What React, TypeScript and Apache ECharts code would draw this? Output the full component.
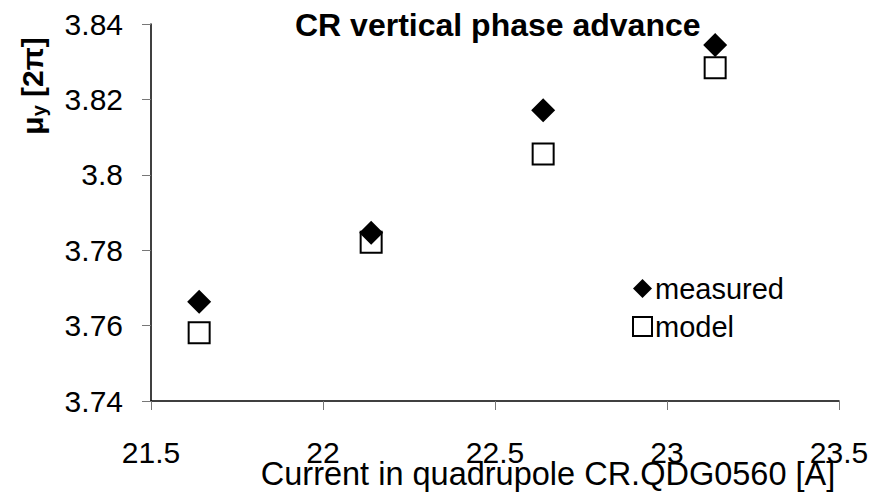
import React, { useEffect, useRef } from "react";
import * as echarts from "echarts";

const currents = [21.64, 22.14, 22.64, 23.14];
const measured = [3.7663, 3.7846, 3.8171, 3.8344];
const model = [3.7581, 3.7821, 3.8055, 3.8284];
const titleText = "CR vertical phase advance";
const xName = "Current in quadrupole CR.QDG0560 [A]";
const seriesNames = ["measured", "model"];

const FONT = "'Liberation Sans', Arial, sans-serif";

export default function App() {
  const ref = useRef<HTMLDivElement>(null);
  useEffect(() => {
    if (!ref.current) return;
    const chart = echarts.init(ref.current, null, { renderer: "svg" });
    chart.setOption({
      animation: false,
      backgroundColor: "#ffffff",
      textStyle: { fontFamily: FONT },
      title: {
        text: titleText,
        left: 295,
        top: 9,
        padding: 0,
        textStyle: { fontFamily: FONT, fontSize: 32, fontWeight: "bold", color: "#000" },
      },
      legend: {
        orient: "vertical",
        left: 627,
        top: 269,
        itemWidth: 19,
        itemHeight: 19,
        itemGap: 9,
        data: seriesNames,
        textStyle: { fontFamily: FONT, fontSize: 29, color: "#000", padding: [0, 0, 0, -2] },
      },
      grid: { left: 151, top: 24, width: 688, height: 377, containLabel: false, outerBoundsMode: "none" },
      xAxis: {
        type: "value",
        min: 21.5,
        max: 23.5,
        interval: 0.5,
        name: xName,
        nameLocation: "middle",
        nameGap: 61,
        nameMoveOverlap: false,
        nameTextStyle: {
          fontFamily: FONT,
          fontSize: 32.5,
          lineHeight: 24,
          color: "#000",
          verticalAlign: "top",
          padding: [0, 0, 0, 106],
        },
        axisLine: { lineStyle: { color: "#000", width: 1.5 } },
        axisTick: { show: true, inside: false, length: 9, lineStyle: { color: "#777" } },
        axisLabel: {
          margin: 41,
          fontFamily: FONT,
          fontSize: 30,
          lineHeight: 20,
          color: "#000",
          formatter: (v: number) => String(parseFloat(v.toFixed(2))),
        },
        splitLine: { show: false },
      },
      yAxis: {
        type: "value",
        min: 3.74,
        max: 3.84,
        interval: 0.02,
        axisLine: { show: true, lineStyle: { color: "#000", width: 1.5 } },
        axisTick: { show: true, inside: false, length: 9, lineStyle: { color: "#777" } },
        axisLabel: {
          margin: 28,
          fontFamily: FONT,
          fontSize: 30,
          color: "#000",
          formatter: (v: number) => String(parseFloat(v.toFixed(2))),
        },
        splitLine: { show: false },
      },
      graphic: [
        {
          type: "text",
          x: 32,
          y: 86,
          rotation: Math.PI / 2,
          style: {
            text: "{a|μ}{b|y}{a| [2π]}",
            align: "center",
            verticalAlign: "middle",
            fill: "#000",
            rich: {
              a: { fontFamily: FONT, fontSize: 30, fontWeight: "bold", lineHeight: 34, fill: "#000" },
              b: { fontFamily: FONT, fontSize: 20, fontWeight: "bold", lineHeight: 22, verticalAlign: "bottom", fill: "#000" },
            },
          },
        },
      ],
      series: [
        {
          name: seriesNames[0],
          type: "scatter",
          symbol: "diamond",
          symbolSize: 24,
          itemStyle: { color: "#000", borderColor: "#000", borderWidth: 0, opacity: 1 },
          data: currents.map((x, i) => [x, measured[i]]),
          z: 3,
        },
        {
          name: seriesNames[1],
          type: "scatter",
          symbol: "rect",
          symbolSize: 21,
          itemStyle: { color: "#fff", borderColor: "#000", borderWidth: 2, opacity: 1 },
          data: currents.map((x, i) => [x, model[i]]),
          z: 2,
        },
      ],
    });
    return () => chart.dispose();
  }, []);
  return <div ref={ref} style={{ width: 879, height: 494, position: "absolute", left: 0, top: 0 }} />;
}
